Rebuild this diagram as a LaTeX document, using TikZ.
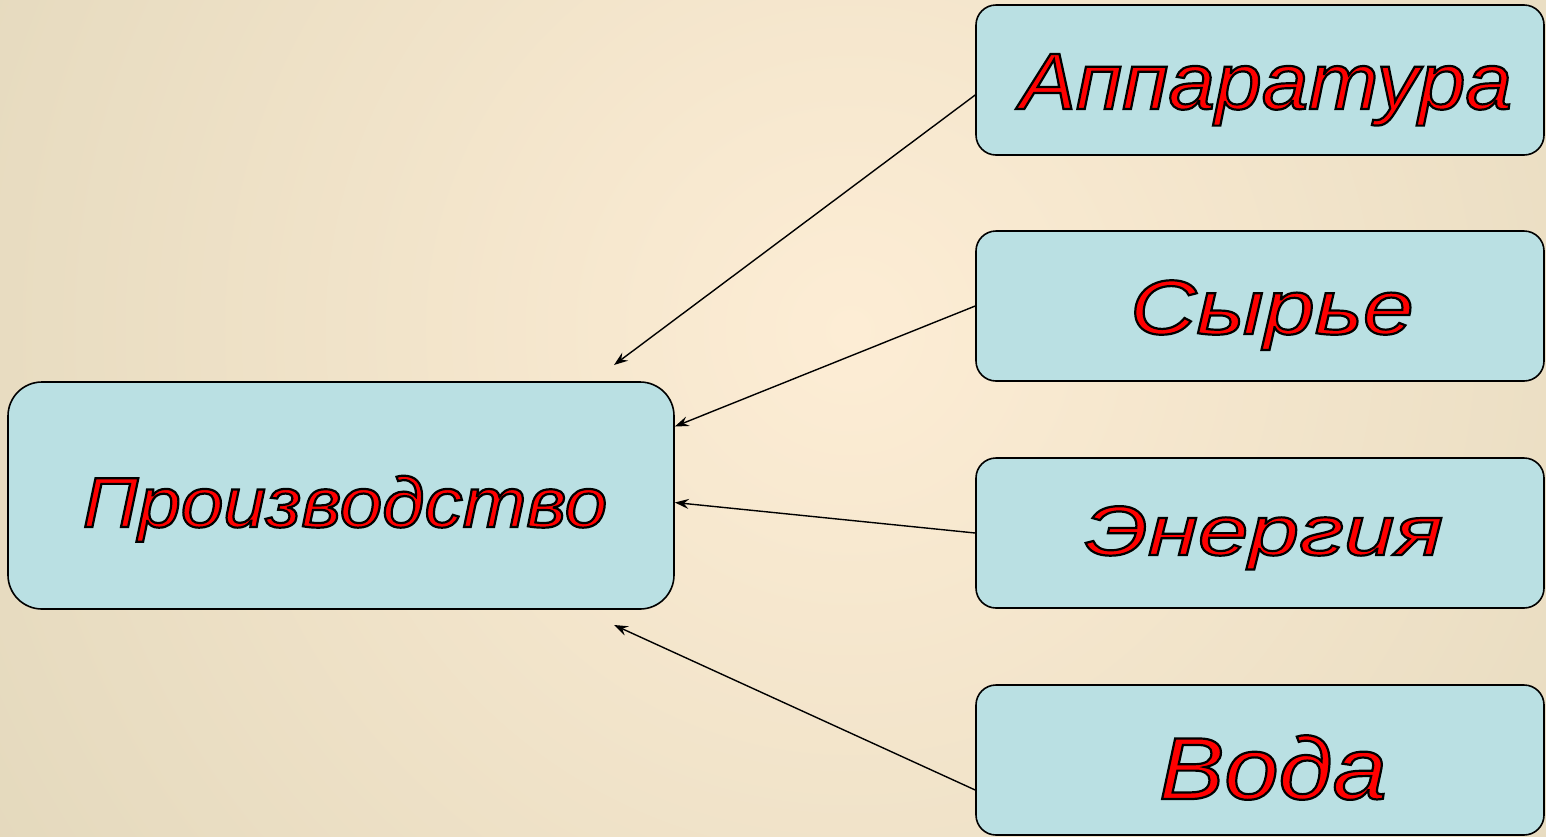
\documentclass[tikz,border=0pt]{standalone}
\usepackage{fontspec}
\newfontfamily\afA{Liberation Sans}[FakeStretch=1.05]
\newfontfamily\afB{Liberation Sans}[FakeStretch=1.19]
\newfontfamily\afC{Liberation Sans}[FakeStretch=1.30]
\newfontfamily\afD{Liberation Sans}[FakeStretch=1.11]
\newfontfamily\afE{Liberation Sans}[FakeStretch=1.08]
\usetikzlibrary{arrows.meta,calc}
\definecolor{bgin}{HTML}{FDEDD5}
\definecolor{bgout}{HTML}{E3D8BC}
\definecolor{boxfill}{HTML}{BAE0E3}
\newcommand{\outl}[1]{\special{pdf:literal direct 0 0 0 RG 2 Tr 1.1 w}#1\special{pdf:literal direct 0 Tr}}
\tikzset{
  box/.style={draw=black, line width=0.8pt, fill=boxfill, rounded corners=10pt,
    minimum width=284pt, minimum height=75pt, inner sep=0pt},
  bigbox/.style={box, rounded corners=17pt, minimum width=333pt, minimum height=113.5pt},
  lbl/.style={text=red, anchor=base, inner sep=0pt},
  arr/.style={line width=0.7pt, -{Stealth[length=7pt,width=5pt,inset=2.5pt]}}
}
\begin{document}
\begin{tikzpicture}[x=0.5pt,y=-0.5pt]
\useasboundingbox (0,0) rectangle (1546,836);
\begin{scope}
\clip (0,0) rectangle (1546,836);
\shade[inner color=bgin, outer color=bgout] (850,330) circle (1050);
\end{scope}
\node[box] (app) at (1260,80) {};
\node[box] (syr) at (1260,306) {};
\node[box] (en) at (1260,533) {};
\node[box] (voda) at (1260,760) {};
\node[bigbox] (pr) at (341,495.5) {};
\node[lbl] (appT) at (1266,109) {\fontsize{40pt}{46pt}\selectfont\afA\itshape\outl{Аппаратура}};
\node[lbl] (syrT) at (1272,334) {\fontsize{38.5pt}{44pt}\selectfont\afB\itshape\outl{Сырье}};
\node[lbl] (enT) at (1264,555) {\fontsize{35pt}{40pt}\selectfont\afC\itshape\outl{Энергия}};
\node[lbl] (vodaT) at (1273,799) {\fontsize{44pt}{50pt}\selectfont\afD\itshape\outl{Вода}};
\node[lbl] (prT) at (345,527) {\fontsize{35.4pt}{41pt}\selectfont\afE\itshape\outl{Производство}};
\coordinate (t1) at (614,365);
\coordinate (t4) at (614,625);
\draw[arr] ([yshift=-7.5pt]app.west) -- (t1);
\draw[arr] (syr.west) -- ([yshift=34.5pt]pr.east);
\draw[arr] (en.west) -- ([yshift=-3.5pt]pr.east);
\draw[arr] ([yshift=-15pt]voda.west) -- (t4);
\end{tikzpicture}
\end{document}
